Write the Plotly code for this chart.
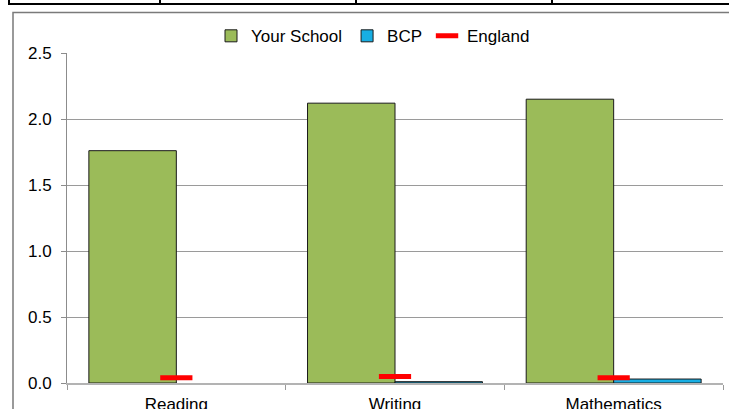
import plotly.graph_objects as go

categories = ["Reading", "Writing", "Mathematics"]
your_school = [1.76, 2.12, 2.15]
bcp = [0.0, 0.01, 0.03]
england = [0.04, 0.05, 0.04]
y_ticks = [0.0, 0.5, 1.0, 1.5, 2.0, 2.5]
y_tick_labels = ["0.0", "0.5", "1.0", "1.5", "2.0", "2.5"]

W, H = 729, 409
L, R, T, B = 67, 6, 53.4, 26.3
PW, PH = W - L - R, H - T - B

def px(x):
    return (x - L) / PW

def py(y):
    return (H - B - y) / PH

FONT = "Arial, Liberation Sans, sans-serif"

# zero-valued BCP bars are drawn as nothing (no outline) in the reference
bcp_x = [c for c, v in zip(categories, bcp) if v != 0]
bcp_y = [v for v in bcp if v != 0]

fig = go.Figure()
fig.add_trace(go.Bar(name="Your School", x=categories, y=your_school,
                     marker=dict(color="#9BBB59", line=dict(color="#1a1a1a", width=1))))
fig.add_trace(go.Bar(name="BCP", x=bcp_x, y=bcp_y,
                     marker=dict(color="#17AEE3", line=dict(color="#1a1a1a", width=1))))
fig.add_trace(go.Scatter(name="England", x=categories, y=england, mode="markers",
                         marker=dict(symbol="line-ew", size=23,
                                     line=dict(color="#FF0000", width=5))))

shapes = [
    # chart frame
    dict(type="rect", xref="paper", yref="paper", x0=px(13), y0=py(H + 10), x1=px(W + 10), y1=py(13),
         line=dict(color="#7a7a7a", width=1.5), layer="below"),
    # table remnants at top
    dict(type="line", xref="paper", yref="paper", x0=px(8), x1=px(W + 5), y0=py(4.5), y1=py(4.5),
         line=dict(color="#000000", width=2)),
]
for vx in [9, 160, 356, 552]:
    shapes.append(dict(type="line", xref="paper", yref="paper", x0=px(vx), x1=px(vx),
                       y0=py(-2), y1=py(5), line=dict(color="#000000", width=2)))

fig.update_layout(
    width=W, height=H,
    margin=dict(l=L, r=R, t=T, b=B, autoexpand=False),
    paper_bgcolor="white", plot_bgcolor="white",
    barmode="group", bargap=0.2, bargroupgap=0,
    font=dict(family=FONT, size=17, color="#000000"),
    legend=dict(orientation="h", x=px(373), y=py(36.7), xanchor="center", yanchor="middle",
                font=dict(size=17), itemwidth=30, bgcolor="rgba(0,0,0,0)"),
    shapes=shapes,
    xaxis=dict(showline=True, linecolor="#b3b3b3", linewidth=1.5, ticks="outside",
               tickson="boundaries", ticklen=5, tickcolor="#9a9a9a",
               showgrid=False, tickfont=dict(size=17), ticklabelstandoff=5,
               categoryorder="array", categoryarray=categories),
    yaxis=dict(range=[0, 2.5], tickvals=y_ticks, ticktext=y_tick_labels,
               showline=True, linecolor="#8c8c8c", linewidth=1, ticks="outside", ticklen=5,
               tickcolor="#8c8c8c", showgrid=True, gridcolor="#9a9a9a", gridwidth=1,
               zeroline=False, tickfont=dict(size=17), ticklabelstandoff=6),
)

fig.write_html("out.html", config={"displayModeBar": False},
               post_script="document.body.style.margin='0';document.body.style.overflow='hidden';")
